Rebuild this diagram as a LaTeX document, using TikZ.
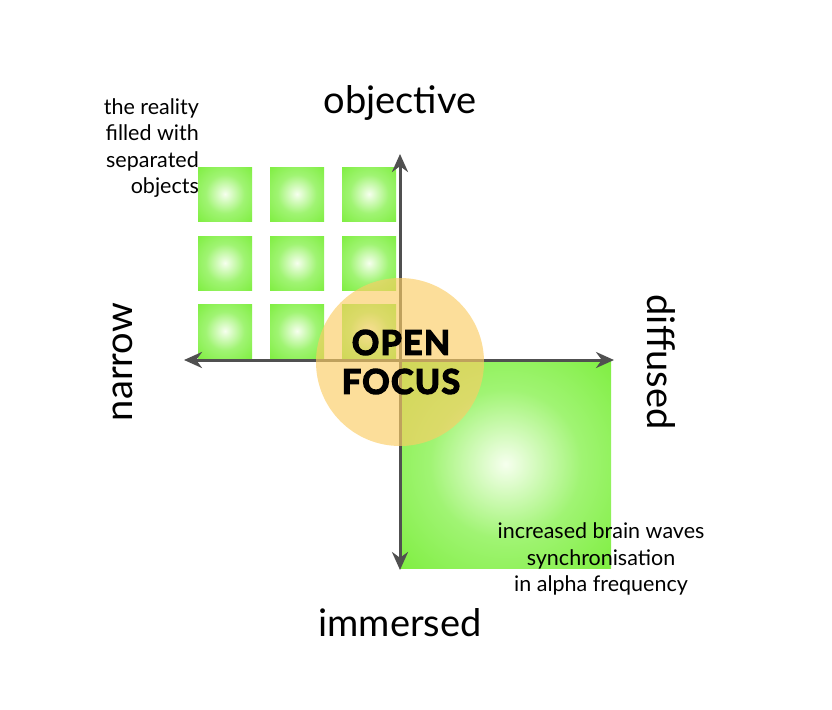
\documentclass[tikz,border=0pt]{standalone}
\usepackage{fontspec}
\setmainfont{Lato}[BoldFeatures={FakeBold=4}]
\usetikzlibrary{arrows.meta}
\definecolor{grn}{RGB}{104,234,30}
\definecolor{grnm}{RGB}{160,244,115}
\definecolor{grnc}{RGB}{246,255,238}
\definecolor{axisc}{RGB}{80,80,80}
\definecolor{orng}{RGB}{251,205,100}
\pgfdeclareradialshading{softgreen}{\pgfpoint{0bp}{0bp}}{color(0bp)=(grnc); color(18bp)=(grnm); color(48bp)=(grn); color(100bp)=(grn)}
\begin{document}
\begin{tikzpicture}[x=1pt,y=-1pt,
  obj/.style={shading=softgreen},
  axisline/.style={draw=axisc,line width=3pt,{Stealth[length=18pt,width=16pt]}-{Stealth[length=18pt,width=16pt]}},
  biglabel/.style={font=\fontsize{38}{42}\selectfont},
  smalllabel/.style={font=\fontsize{21.5}{26.5}\selectfont,inner sep=0pt},
  focus/.style={font=\fontsize{34}{39}\selectfont\bfseries\addfontfeatures{LetterSpace=4},align=center,inner sep=0pt}]
\useasboundingbox (0,0) rectangle (832,709);
% small objects
\foreach \c/\x in {1/198,2/270,3/342}{
  \foreach \r/\y in {1/167,2/236,3/304}{
    \shade[obj] (\x,\y) rectangle ++(54,54);
  }
}
% big square
\shade[obj] (400,360) rectangle (611,568);
% axes
\coordinate (top) at (400,154);
\coordinate (bot) at (400,570);
\coordinate (lft) at (184,360);
\coordinate (rgt) at (614,360);
\draw[axisline] (top) -- (bot);
\draw[axisline] (lft) -- (rgt);
% open focus circle
\fill[orng,fill opacity=0.65] (400,362) circle (84);
\node[focus] (of) at (401,362) {OPEN\\FOCUS};
% labels
\node[biglabel] (objective) at (400,103) {objective};
\node[biglabel] (immersed) at (400,623) {immersed};
\node[biglabel,rotate=90] (narrow) at (123,362) {narrow};
\node[biglabel,rotate=-90] (diffused) at (661,362) {diffused};
\node[smalllabel,align=right,anchor=north east] (reality) at (199,98) {the reality\\filled with\\separated\\objects};
\node[smalllabel,align=center] (brain) at (601,559) {increased brain waves\\synchronisation\\in alpha frequency};
\end{tikzpicture}
\end{document}
